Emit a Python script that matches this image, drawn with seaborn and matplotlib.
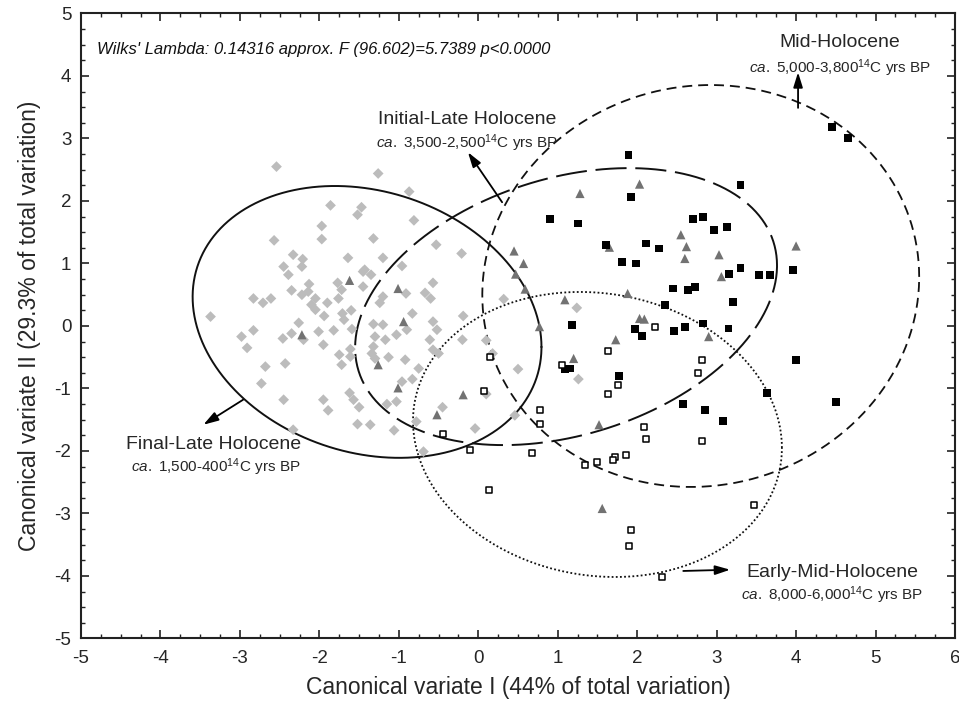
import numpy as np
import pandas as pd
import matplotlib
matplotlib.use("Agg")
import matplotlib.pyplot as plt
from matplotlib.ticker import MultipleLocator
import seaborn as sns

# ---------------- data ----------------
final_late_x = [-2.54, -1.26, -0.87, -1.86, -1.47, -1.52, -0.81, -1.97, -2.57, -1.97, -1.32, -0.53, -0.21,
                -2.33, -2.21, -1.64, -1.20, -2.45, -2.22, -0.96, -2.39, -1.45, -1.43, -1.35, -2.35, -2.13,
                -2.14, -2.22, -2.05, -1.77, -1.72, -1.76, -1.45, -1.20, -0.57, -0.67, -0.60, -2.83, -2.71,
                -2.61, -2.10, -2.05, -1.90, -0.91, -1.24, -3.37, -1.94, -1.71, -1.60, -1.69, -0.83, -0.57,
                -0.19, -1.32, -1.20, -2.26, -2.83, -2.98, -2.91, -2.46, -2.35, -2.01, -1.82, -1.59, -1.95,
                -2.20, -1.30, -1.17, -1.03, -0.90, -0.61, -0.52, -0.20, 0.10, -1.32, -1.34, -1.30, -1.13,
                -1.61, -1.61, -1.75, -1.72, -2.43, -2.68, -0.92, -0.75, -0.57, -0.50, 0.18, 0.50, -2.73,
                -2.45, -1.95, -1.62, -1.57, -1.50, -1.89, -0.96, -0.83, -1.03, -1.15, -0.45, -1.52, -1.36,
                -1.06, -0.78, -0.04, -2.33, 0.10, 0.32, 1.24, 1.26, 0.46, -0.69]
final_late_y = [2.55, 2.44, 2.15, 1.93, 1.90, 1.78, 1.69, 1.60, 1.37, 1.39, 1.40, 1.30, 1.16,
                1.14, 1.07, 1.09, 1.09, 0.95, 0.95, 0.96, 0.82, 0.87, 0.90, 0.82, 0.57, 0.67,
                0.55, 0.50, 0.44, 0.69, 0.58, 0.44, 0.63, 0.47, 0.69, 0.53, 0.44, 0.44, 0.37,
                0.44, 0.34, 0.26, 0.37, 0.52, 0.37, 0.15, 0.16, 0.20, 0.25, 0.10, 0.20, 0.07,
                0.16, 0.03, 0.02, 0.05, -0.07, -0.17, -0.35, -0.20, -0.12, -0.09, -0.07, -0.05, -0.30,
                -0.22, -0.17, -0.22, -0.14, -0.06, -0.22, -0.06, -0.22, -0.23, -0.33, -0.44, -0.52, -0.50,
                -0.37, -0.49, -0.46, -0.62, -0.60, -0.65, -0.54, -0.68, -0.38, -0.44, -0.44, -0.69, -0.92,
                -1.18, -1.18, -1.07, -1.18, -1.30, -1.35, -0.89, -0.85, -1.21, -1.25, -1.30, -1.57, -1.58,
                -1.67, -1.53, -1.64, -1.66, -1.09, 0.43, 0.29, -0.85, -1.43, -2.01]

initial_late_x = [-1.62, -1.01, -0.94, -2.22, -1.26, -1.01, -0.19, -0.52, 0.45, 0.57, 0.47, 0.59, 0.77,
                  1.28, 2.03, 1.65, 2.55, 2.62, 2.60, 3.03, 3.06, 4.00, 1.88, 1.09, 2.03, 2.09, 1.73,
                  2.90, 1.20, 1.52, 1.56]
initial_late_y = [0.73, 0.60, 0.07, -0.14, -0.62, -0.99, -1.10, -1.42, 1.20, 1.00, 0.83, 0.59, -0.01,
                  2.12, 2.27, 1.26, 1.46, 1.27, 1.08, 1.14, 0.79, 1.28, 0.52, 0.42, 0.12, 0.11, -0.22,
                  -0.17, -0.52, -1.58, -2.92]

mid_x = [1.89, 3.30, 1.92, 0.90, 1.25, 2.70, 2.83, 2.97, 3.13, 1.61, 2.11, 2.27, 1.81, 1.98, 3.16, 3.30,
         3.53, 3.67, 3.96, 2.45, 2.64, 2.73, 3.21, 2.35, 1.18, 1.97, 2.06, 2.46, 2.60, 2.83, 3.15, 1.09,
         1.15, 1.77, 2.58, 2.85, 3.08, 3.63, 4.00, 4.45, 4.65, 4.50]
mid_y = [2.74, 2.26, 2.06, 1.71, 1.64, 1.71, 1.74, 1.53, 1.58, 1.30, 1.32, 1.24, 1.03, 1.00, 0.83, 0.93,
         0.81, 0.81, 0.90, 0.60, 0.58, 0.63, 0.38, 0.34, 0.02, -0.05, -0.16, -0.08, -0.01, 0.04, -0.04, -0.69,
         -0.68, -0.80, -1.25, -1.35, -1.52, -1.07, -0.54, 3.18, 3.01, -1.22]

early_mid_x = [0.15, 0.07, -0.44, -0.10, 0.78, 0.78, 0.68, 0.14, 1.05, 1.63, 1.76, 1.63, 2.08, 2.11, 1.34,
               1.49, 1.72, 1.70, 1.86, 1.92, 1.90, 2.31, 2.23, 2.81, 2.77, 2.81, 3.47]
early_mid_y = [-0.50, -1.04, -1.73, -1.98, -1.34, -1.57, -2.04, -2.63, -0.62, -0.40, -0.94, -1.09, -1.62,
               -1.81, -2.23, -2.18, -2.09, -2.15, -2.06, -3.27, -3.52, -4.01, -0.01, -0.55, -0.75, -1.84, -2.87]

# ellipse parameters: centre and covariance-like shape matrix [[a, c], [c, b]]
ell_final_center = [-1.40, 0.065]
ell_final_shape = [[4.82, -0.88], [-0.88, 4.73]]
ell_initial_center = [1.105, 0.31]
ell_initial_shape = [[7.05, 1.75], [1.75, 4.91]]
ell_mid_center = [2.80, 0.64]
ell_mid_shape = [[7.56, 0.4], [0.4, 10.34]]
ell_early_center = [1.50, -1.736]
ell_early_shape = [[5.39, -0.5], [-0.5, 5.20]]

x_ticks = [-5, -4, -3, -2, -1, 0, 1, 2, 3, 4, 5, 6]
y_ticks = [-5, -4, -3, -2, -1, 0, 1, 2, 3, 4, 5]

df = pd.concat([
    pd.DataFrame({"x": final_late_x, "y": final_late_y, "group": "Final-Late Holocene"}),
    pd.DataFrame({"x": initial_late_x, "y": initial_late_y, "group": "Initial-Late Holocene"}),
    pd.DataFrame({"x": mid_x, "y": mid_y, "group": "Mid-Holocene"}),
    pd.DataFrame({"x": early_mid_x, "y": early_mid_y, "group": "Early-Mid-Holocene"}),
], ignore_index=True)

# ---------------- style ----------------
sns.set_style("ticks")
plt.rcParams["font.family"] = ["Liberation Sans", "DejaVu Sans"]
plt.rcParams["mathtext.fontset"] = "custom"
plt.rcParams["mathtext.rm"] = "Liberation Sans"
plt.rcParams["mathtext.it"] = "Liberation Sans:italic"
plt.rcParams["axes.unicode_minus"] = False

fig = plt.figure(figsize=(9.59, 7.03), dpi=100)
ax = fig.add_axes([0.0845, 0.0918, 0.9113, 0.889])

styles = {
    "Final-Late Holocene": dict(marker="D", s=30, color="#bcbcbc", edgecolor="none", linewidth=0),
    "Initial-Late Holocene": dict(marker="^", s=44, color="#727272", edgecolor="none", linewidth=0),
    "Mid-Holocene": dict(marker="s", s=32, color="black", edgecolor="none", linewidth=0),
    "Early-Mid-Holocene": dict(marker="s", s=24, facecolor="white", edgecolor="black", linewidth=1.1),
}
for g, kw in styles.items():
    sns.scatterplot(data=df[df["group"] == g], x="x", y="y", ax=ax, legend=False, zorder=3, **kw)


def ellipse_xy(center, shape, n=500):
    t = np.linspace(0, 2 * np.pi, n)
    L = np.linalg.cholesky(np.array(shape, dtype=float))
    pts = (L @ np.vstack([np.cos(t), np.sin(t)])).T + np.array(center)
    return pts[:, 0], pts[:, 1]


ex, ey = ellipse_xy(ell_final_center, ell_final_shape)
ax.plot(ex, ey, color="#111111", lw=1.4, ls="-", zorder=2)
ex, ey = ellipse_xy(ell_initial_center, ell_initial_shape)
ax.plot(ex, ey, color="#111111", lw=1.4, ls=(0, (16, 4.5)), zorder=2)
ex, ey = ellipse_xy(ell_mid_center, ell_mid_shape)
ax.plot(ex, ey, color="#111111", lw=1.3, ls=(0, (5.5, 3.3)), zorder=2)
ex, ey = ellipse_xy(ell_early_center, ell_early_shape)
ax.plot(ex, ey, color="#111111", lw=1.3, ls=(0, (1, 1.3)), zorder=2)

# ---------------- annotations ----------------
arrow_kw = dict(arrowstyle="-|>,head_length=0.9,head_width=0.28", color="black", lw=1.3,
                shrinkA=0, shrinkB=0)
ax.annotate("", xy=(4.025, 4.06), xytext=(4.025, 3.49), arrowprops=arrow_kw)
ax.annotate("", xy=(-0.13, 2.78), xytext=(0.30, 1.98), arrowprops=arrow_kw)
ax.annotate("", xy=(-3.46, -1.58), xytext=(-2.96, -1.18), arrowprops=arrow_kw)
ax.annotate("", xy=(3.17, -3.90), xytext=(2.58, -3.92), arrowprops=arrow_kw)

title_fs = 14
sub_fs = 11
ax.text(-4.80, 4.43, "Wilks' Lambda: 0.14316 approx. F (96.602)=5.7389 p<0.0000",
        fontsize=12, style="italic", ha="left", va="center", color="#111111")

ax.text(4.55, 4.54, "Mid-Holocene", fontsize=title_fs, ha="center", va="center")
ax.text(4.55, 4.13, r"$\mathit{ca.}$ 5,000-3,800${}^{14}$C yrs BP", fontsize=sub_fs, ha="center", va="center")

ax.text(-0.14, 3.30, "Initial-Late Holocene", fontsize=title_fs, ha="center", va="center")
ax.text(-0.14, 2.93, r"$\mathit{ca.}$ 3,500-2,500${}^{14}$C yrs BP", fontsize=sub_fs, ha="center", va="center")

ax.text(-3.33, -1.89, "Final-Late Holocene", fontsize=title_fs, ha="center", va="center")
ax.text(-3.30, -2.26, r"$\mathit{ca.}$ 1,500-400${}^{14}$C yrs BP", fontsize=sub_fs, ha="center", va="center")

ax.text(4.46, -3.95, "Early-Mid-Holocene", fontsize=title_fs, ha="center", va="center")
ax.text(4.46, -4.30, r"$\mathit{ca.}$ 8,000-6,000${}^{14}$C yrs BP", fontsize=sub_fs, ha="center", va="center")

# ---------------- axes ----------------
ax.set_xlim(-5, 6)
ax.set_ylim(-5, 5)
ax.set_xticks(x_ticks)
ax.set_yticks(y_ticks)
ax.set_xticklabels([str(v) for v in x_ticks])
ax.set_yticklabels([str(v) for v in y_ticks])
ax.xaxis.set_minor_locator(MultipleLocator(0.25))
ax.yaxis.set_minor_locator(MultipleLocator(0.25))
ax.tick_params(which="major", direction="in", top=True, right=True, length=6, width=1.2,
               labelsize=13.5, color="#222222")
ax.tick_params(axis="x", which="major", pad=8)
ax.tick_params(axis="y", which="major", pad=7)
ax.tick_params(which="minor", direction="in", top=True, right=True, length=3, width=1.0, color="#222222")
for sp in ax.spines.values():
    sp.set_linewidth(1.5)
    sp.set_color("#222222")

ax.set_xlabel("Canonical variate I (44% of total variation)", fontsize=16.5, labelpad=7)
ax.set_ylabel("Canonical variate II (29.3% of total variation)", fontsize=16.5, labelpad=10)

fig.savefig("out.png", dpi=100)
